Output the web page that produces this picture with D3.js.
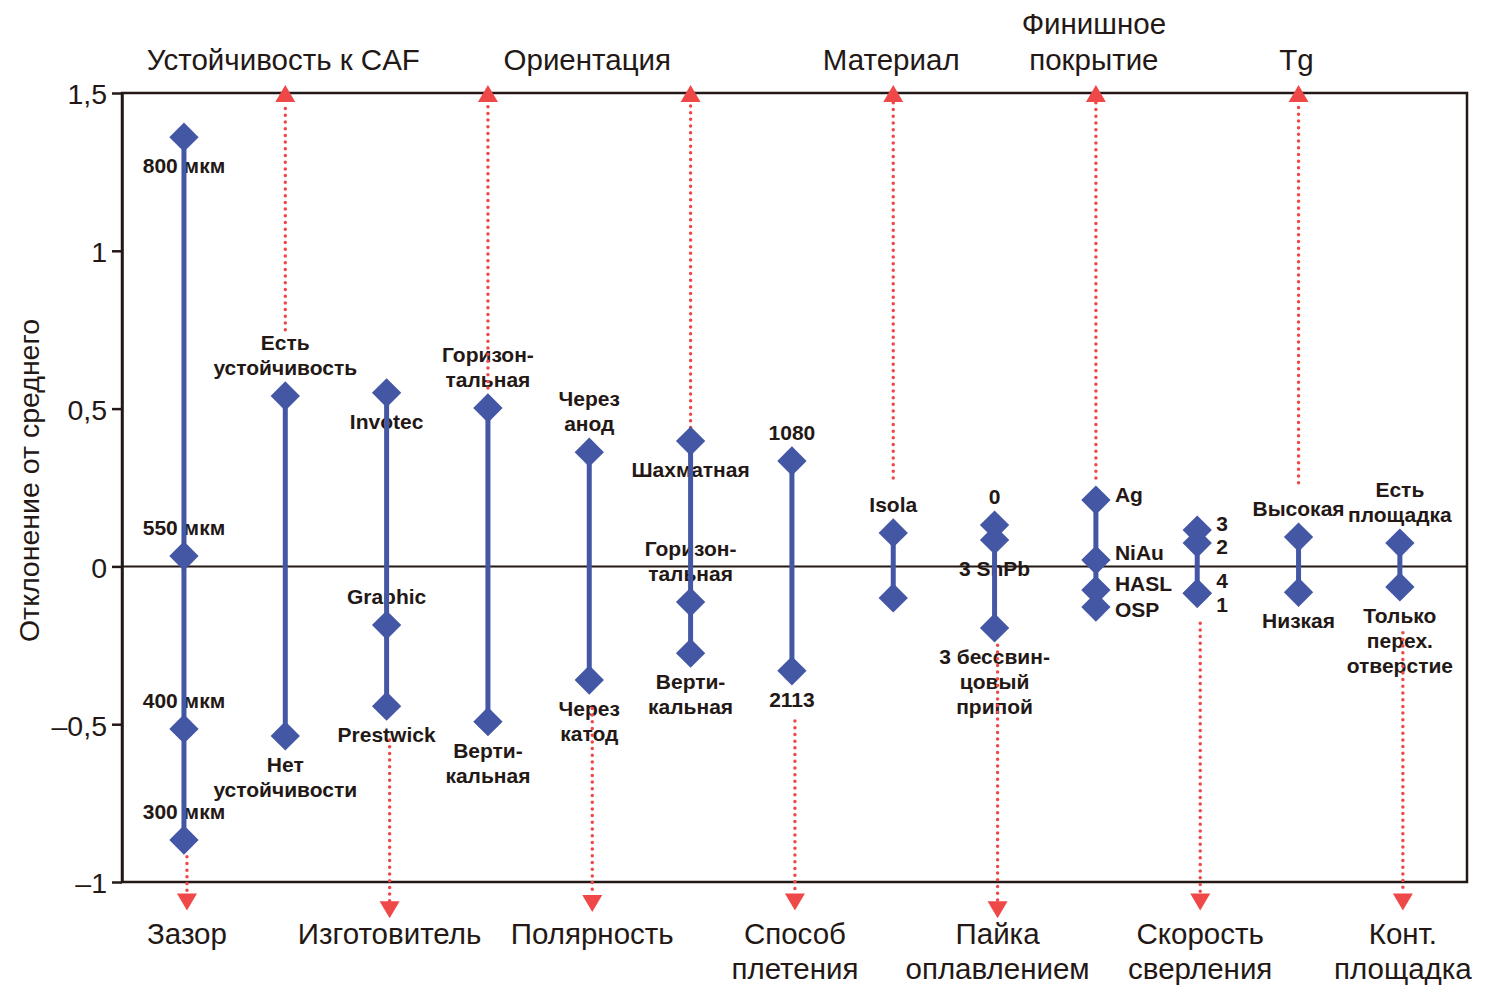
<!DOCTYPE html>
<html lang="ru">
<head>
<meta charset="utf-8">
<title>Отклонение от среднего</title>
<script src="https://d3js.org/d3.v7.min.js"></script>
<style>
  body { margin: 0; background: #fff; }
  text { font-family: "Liberation Sans", Arial, sans-serif; fill: #231815; }
  .axis text { font-size: 28.5px; }
  .axis path, .axis line { stroke: #231815; stroke-width: 2.5; }
  .plabel { font-size: 21px; font-weight: bold; }
  .title { font-size: 29.5px; }
</style>
</head>
<body>
<script>
// columns (one per factor), left to right
var columns = ["Зазор", "CAF", "Изготовитель", "Ориентация", "Полярность", "Рисунок",
               "Плетение", "Материал", "Пайка", "Покрытие", "Сверление", "Tg", "Площадка"];

// deviation from mean
var pointValues = [
  [1.36, 0.033, -0.515, -0.867],
  [0.54, -0.537],
  [0.55, -0.186, -0.443],
  [0.502, -0.492],
  [0.362, -0.36],
  [0.397, -0.113, -0.275],
  [0.334, -0.331],
  [0.106, -0.10],
  [0.131, 0.084, -0.195],
  [0.21, 0.02, -0.075, -0.129],
  [0.115, 0.074, -0.085, -0.085],
  [0.093, -0.082],
  [0.074, -0.065]
];
var pointLabels = [
  ["800 мкм", "550 мкм", "400 мкм", "300 мкм"],
  ["Есть\nустойчивость", "Нет\nустойчивости"],
  ["Invotec", "Graphic", "Prestwick"],
  ["Горизон-\nтальная", "Верти-\nкальная"],
  ["Через\nанод", "Через\nкатод"],
  ["Шахматная", "Горизон-\nтальная", "Верти-\nкальная"],
  ["1080", "2113"],
  ["Isola", ""],
  ["0", "3 SnPb", "3 бессвин-\nцовый\nприпой"],
  ["Ag", "NiAu", "HASL", "OSP"],
  ["3", "2", "4", "1"],
  ["Высокая", "Низкая"],
  ["Есть\nплощадка", "Только\nперех.\nотверстие"]
];
// where each label sits: a = above, b = below, r = right of the diamond
var labelSide = [
  ["b", "a", "a", "a"],
  ["a", "b"],
  ["b", "a", "b"],
  ["a", "b"],
  ["a", "b"],
  ["b", "a", "b"],
  ["a", "b"],
  ["a", "b"],
  ["a", "b", "b"],
  ["r", "r", "r", "r"],
  ["r", "r", "r", "r"],
  ["a", "b"],
  ["a", "b"]
];
// small vertical nudge (px) for labels on the right
var rightNudge = [
  [], [], [], [], [], [], [], [], [],
  [-5, -7, -6, 3],
  [-6, 4, -12, 12],
  [], []
];

// factor titles above and below the plot
var topTitles = [["Устойчивость к CAF"], ["Ориентация"], ["Материал"], ["Финишное", "покрытие"], ["Tg"]];
var topTitleCols = [[1], [3, 5], [7], [9], [11]];
var bottomTitles = [["Зазор"], ["Изготовитель"], ["Полярность"], ["Способ", "плетения"],
                    ["Пайка", "оплавлением"], ["Скорость", "сверления"], ["Конт.", "площадка"]];
var bottomTitleCols = [0, 2, 4, 6, 8, 10, 12];

// red dotted arrows (values in axis units)
var upArrowCols = [1, 3, 5, 7, 9, 11];
var upArrowFrom = [0.75, 0.565, 0.44, 0.28, 0.28, 0.265];
var upArrowTip = 1.525;
var downArrowCols = [0, 2, 4, 6, 8, 10, 12];
var downArrowFrom = [-0.92, -0.55, -0.45, -0.49, -0.25, -0.18, -0.21];
var downArrowTip = [-1.09, -1.115, -1.095, -1.09, -1.115, -1.09, -1.09];

var yTicks = [-1, -0.5, 0, 0.5, 1, 1.5];

var W = 1486, H = 995;
var plot = {left: 122, right: 1467, top: 93, bottom: 882};
var blue = "#4457a5", red = "#ef4848", ink = "#231815";
var lineH = 25;

var svg = d3.select("body").append("svg").attr("width", W).attr("height", H);

var x = d3.scalePoint().domain(columns).range([plot.left, plot.right]).padding(0.637).align(0.48);
var y = d3.scaleLinear().domain([-1, 1.5]).range([plot.bottom, plot.top]);

// frame
svg.append("rect")
  .attr("x", plot.left).attr("y", plot.top)
  .attr("width", plot.right - plot.left).attr("height", plot.bottom - plot.top)
  .attr("fill", "none").attr("stroke", ink).attr("stroke-width", 2.5);

// y axis
var fmt = function(d) {
  if (d === 0) return "0";
  return (d < 0 ? "\u2013" : "") + String(Math.abs(d)).replace(".", ",");
};
var yAxis = svg.append("g").attr("class", "y axis")
  .attr("transform", "translate(" + plot.left + ",0)")
  .call(d3.axisLeft(y).tickValues(yTicks).tickFormat(fmt).tickSize(10).tickSizeOuter(0).tickPadding(5));
yAxis.selectAll("text").attr("dy", "0.38em");

svg.append("text").attr("class", "title")
  .attr("transform", "translate(39," + ((plot.top + plot.bottom) / 2 - 7) + ") rotate(-90)")
  .attr("text-anchor", "middle").style("font-size", "28.5px")
  .text("Отклонение от среднего");

// zero line
svg.append("line")
  .attr("x1", plot.left).attr("x2", plot.right)
  .attr("y1", y(0)).attr("y2", y(0))
  .attr("stroke", ink).attr("stroke-width", 2);

// titles
var tTop = svg.append("g");
topTitles.forEach(function(lines, i) {
  var cx = d3.mean(topTitleCols[i], function(c) { return x(columns[c]); }) - 2;
  var t = tTop.append("text").attr("class", "title").attr("text-anchor", "middle");
  lines.forEach(function(s, j) {
    t.append("tspan").attr("x", cx).attr("y", 70 - (lines.length - 1 - j) * 36).text(s);
  });
});
var tBot = svg.append("g");
bottomTitles.forEach(function(lines, i) {
  var cx = x(columns[bottomTitleCols[i]]) + 3;
  var t = tBot.append("text").attr("class", "title").attr("text-anchor", "middle");
  lines.forEach(function(s, j) {
    t.append("tspan").attr("x", cx).attr("y", 944 + j * 35).text(s);
  });
});

// point labels
var gl = svg.append("g");
pointValues.forEach(function(vals, c) {
  var cx = x(columns[c]);
  vals.forEach(function(v, k) {
    var txt = pointLabels[c][k];
    if (!txt) return;
    var lines = txt.split("\n");
    var side = labelSide[c][k];
    var cy = y(v);
    var t = gl.append("text").attr("class", "plabel");
    lines.forEach(function(s, j) {
      var ly, lx = cx, anchor = "middle";
      if (side === "a") ly = cy - 21 - (lines.length - 1 - j) * lineH;
      else if (side === "b") ly = cy + 36 + j * lineH;
      else { ly = cy + 7 + rightNudge[c][k]; lx = cx + 19; anchor = "start"; }
      t.attr("text-anchor", anchor);
      t.append("tspan").attr("x", lx).attr("y", ly).text(s);
    });
  });
});

// red dotted arrows
var ga = svg.append("g");
function arrow(cx, fromV, tipV, up) {
  var yt = y(tipV), base = up ? yt + 17 : yt - 17;
  ga.append("line")
    .attr("x1", cx).attr("x2", cx)
    .attr("y1", y(fromV)).attr("y2", base)
    .attr("stroke", red).attr("stroke-width", 3.5)
    .attr("stroke-linecap", "round").attr("stroke-dasharray", "0 6.7");
  ga.append("path")
    .attr("d", "M" + cx + "," + yt + "L" + (cx - 10) + "," + base + "L" + (cx + 10) + "," + base + "Z")
    .attr("fill", red);
}
upArrowCols.forEach(function(c, i) { arrow(x(columns[c]), upArrowFrom[i], upArrowTip, true); });
downArrowCols.forEach(function(c, i) { arrow(x(columns[c]) + 3, downArrowFrom[i], downArrowTip[i], false); });

// blue ranges and diamonds
var gp = svg.append("g");
gp.selectAll("line.range").data(pointValues).enter().append("line")
  .attr("class", "range")
  .attr("x1", function(d, i) { return x(columns[i]); })
  .attr("x2", function(d, i) { return x(columns[i]); })
  .attr("y1", function(d) { return y(d3.max(d)); })
  .attr("y2", function(d) { return y(d3.min(d)); })
  .attr("stroke", blue).attr("stroke-width", 5);

var pts = [];
pointValues.forEach(function(vals, c) { vals.forEach(function(v) { pts.push({c: c, v: v}); }); });
var diamond = d3.symbol().type(d3.symbolSquare).size(430);
gp.selectAll("path.pt").data(pts).enter().append("path")
  .attr("class", "pt")
  .attr("d", diamond)
  .attr("transform", function(d) { return "translate(" + x(columns[d.c]) + "," + y(d.v) + ") rotate(45)"; })
  .attr("fill", blue);
</script>
</body>
</html>
